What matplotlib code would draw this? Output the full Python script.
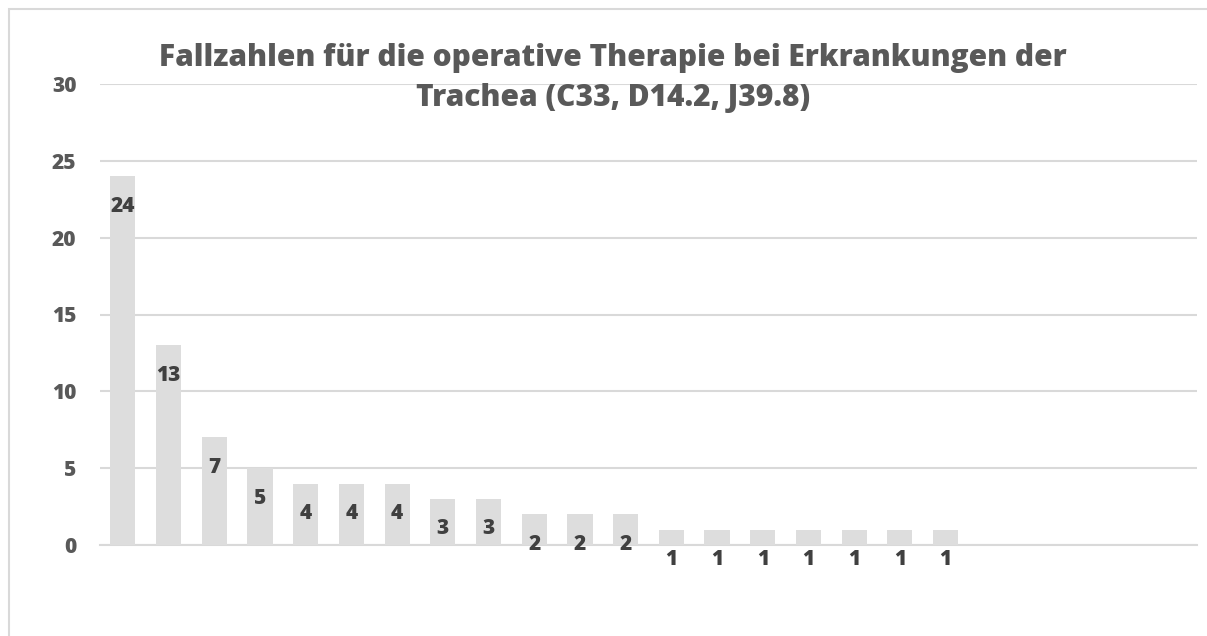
"""Fallzahlen Trachea: bar chart with inside-end value labels."""

import matplotlib

matplotlib.use("Agg")

import matplotlib.pyplot as plt
from matplotlib.patches import Rectangle

# 24 category slots, only the first 19 carry a value
values = [24, 13, 7, 5, 4, 4, 4, 3, 3, 2, 2, 2, 1, 1, 1, 1, 1, 1, 1]
n_slots = 24
y_ticks = [0, 5, 10, 15, 20, 25, 30]
title = "Fallzahlen für die operative Therapie bei Erkrankungen der\nTrachea (C33, D14.2, J39.8)"

W, H = 1207, 636
BAR = "#dddddd"
GRID = "#d9d9d9"
TITLE_C = "#595959"
LABEL_C = "#404040"
FONT = "Open Sans"
WEIGHT = 800

fig = plt.figure(figsize=(W / 100, H / 100), dpi=100)
fig.patches.append(
    Rectangle((9 / W, -0.1), 1.2, 1 - 9 / H + 0.1, transform=fig.transFigure,
              fill=False, edgecolor=GRID, linewidth=1.5)
)

ax = fig.add_axes([100 / W, 1 - 545 / H, 1097 / W, (545 - 84) / H])
x = list(range(len(values)))
ax.bar(x, values, width=0.55, color=BAR, zorder=2)
ax.set_xlim(-0.5, n_slots - 0.5)
ax.set_ylim(0, 30)
ax.set_yticks(y_ticks)
ax.set_yticklabels([str(t) for t in y_ticks], fontsize=15, fontweight=WEIGHT,
                   color=TITLE_C, family=FONT)
ax.tick_params(axis="y", length=0, pad=17)
ax.set_xticks([])
ax.yaxis.grid(True, color=GRID, linewidth=1.5, zorder=0)
for side in ["top", "right", "left"]:
    ax.spines[side].set_visible(False)
ax.spines["bottom"].set_color(GRID)
ax.spines["bottom"].set_linewidth(1.5)
ax.spines["bottom"].set_zorder(1)

for xi, v in zip(x, values):
    ax.annotate(str(v), (xi, v), xytext=(0, -21.5), textcoords="offset points",
                ha="center", va="center", fontsize=15, fontweight=WEIGHT,
                color=LABEL_C, family=FONT, zorder=3)

fig.text(613 / W, 1 - 78 / H, title, ha="center", va="center", fontsize=21.5,
         fontweight=WEIGHT, color=TITLE_C, family=FONT, linespacing=1.45)

fig.savefig("out.png", dpi=100)
